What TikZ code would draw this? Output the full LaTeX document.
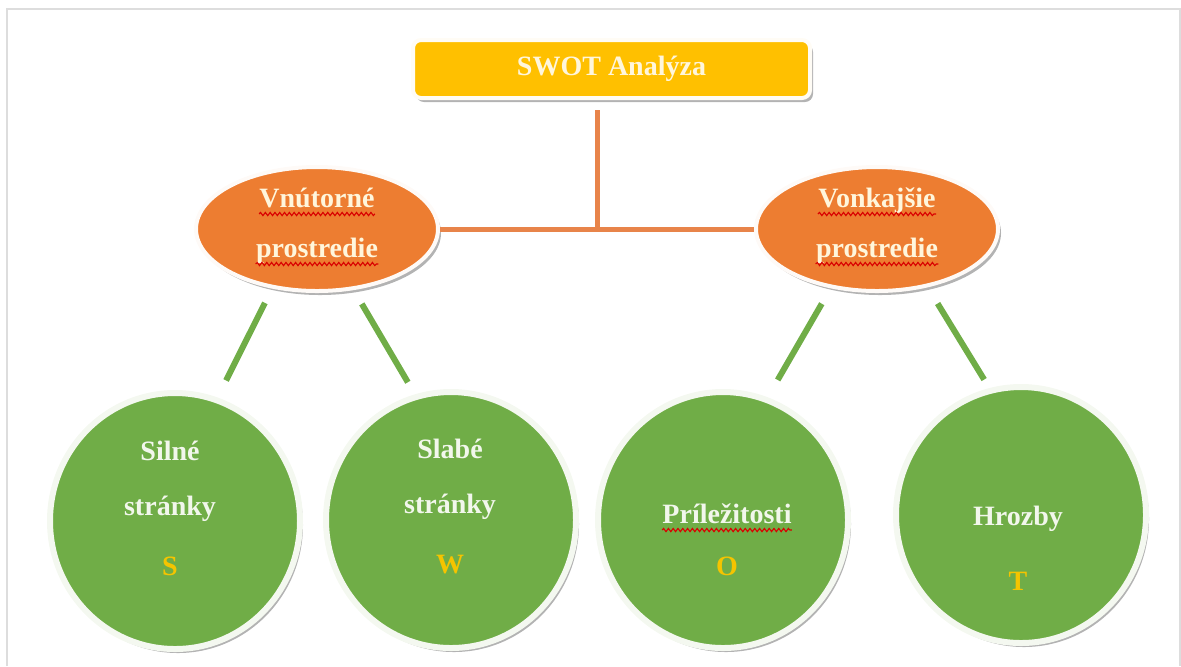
\documentclass[tikz,border=0pt]{standalone}
\usepackage{fontspec}
\setmainfont{Liberation Serif}
\usetikzlibrary{shapes.geometric,shadows,decorations.pathmorphing}
\definecolor{swotyellow}{HTML}{FFC000}
\definecolor{swotorange}{HTML}{ED7D31}
\definecolor{lineorange}{HTML}{E8844A}
\definecolor{swotgreen}{HTML}{70AD47}
\definecolor{cream}{HTML}{FFF6DC}
\definecolor{paleg}{HTML}{F2F7EC}
\definecolor{letterc}{HTML}{F5C400}
\definecolor{framec}{HTML}{DDDDDD}
\begin{document}
\begin{tikzpicture}[x=0.5pt,y=-0.5pt,
  shad/.style={drop shadow={shadow xshift=1.5pt,shadow yshift=-2pt,fill=black!50,opacity=0.6}},
  titlebox/.style={rectangle,rounded corners=4pt,fill=swotyellow,draw=white!96!swotyellow,line width=2pt,
    minimum width=198.5pt,minimum height=29pt,inner sep=0pt,shad,
    font=\bfseries\fontsize{14pt}{16pt}\selectfont,text=cream},
  oval/.style={ellipse,fill=swotorange,draw=white!96!swotorange,line width=2pt,inner sep=0pt,
    minimum width=121pt,minimum height=62pt,shad},
  disc/.style={ellipse,fill=swotgreen,draw=white!92!swotgreen,line width=3pt,inner sep=0pt,
    minimum width=125pt,minimum height=128pt,shad},
  lbl/.style={anchor=base,inner sep=0pt,font=\bfseries\fontsize{14pt}{16pt}\selectfont,text=paleg},
  olbl/.style={lbl,text=cream},
  letter/.style={lbl,text=letterc},
  orangeline/.style={draw=lineorange,line width=2.5pt},
  greenline/.style={draw=swotgreen,line width=3pt},
  squiggle/.style={draw=red!85!black,line width=0.55pt,decorate,
    decoration={snake,amplitude=0.8pt,segment length=2.4pt}}
]
\useasboundingbox (0,0) rectangle (1181,666);
\draw[framec,line width=1pt] (7,666) -- (7,9) -- (1180,9) -- (1180,666);

% nodes
\node[titlebox] (box) at (611.5,69) {SWOT Analýza};
\node[oval] (lell) at (317,229) {};
\node[oval] (rell) at (877,229) {};
\node[disc] (silne) at (175,521) {};
\node[disc] (slabe) at (451,520) {};
\node[disc] (prilez) at (723,520) {};
\node[disc] (hrozby) at (1021,515) {};

% orange connectors
\coordinate (j) at (597,229);
\draw[orangeline,shorten <=5pt] (box.south -| j) -- (j);
\draw[orangeline] (lell.east) -- (rell.west);

% green connectors
\draw[greenline,shorten <=8pt,shorten >=9.5pt] (lell.233) -- (silne.71);
\draw[greenline,shorten <=8pt,shorten >=7pt] (lell.301) -- (slabe.106);
\draw[greenline,shorten <=8.9pt,shorten >=10pt] (rell.232) -- (prilez.70);
\draw[greenline,shorten <=9.5pt,shorten >=5pt] (rell.311) -- (hrozby.104);

% ellipse texts
\node[olbl] (v1) at (317,207) {Vnútorné};
\node[olbl] (v2) at (317,257) {prostredie};
\node[olbl] (k1) at (877,207) {Vonkajšie};
\node[olbl] (k2) at (877,257) {prostredie};

% circle texts
\node[lbl] (s1) at (170,460) {Silné};
\node[lbl] (s2) at (170,515) {stránky};
\node[letter] (s3) at (170,575) {S};
\node[lbl] (w1) at (450,458) {Slabé};
\node[lbl] (w2) at (450,513) {stránky};
\node[letter] (w3) at (450,573) {W};
\node[lbl] (o1) at (727,523) {Príležitosti};
\node[letter] (o3) at (727,575) {O};
\node[lbl] (h1) at (1018,525) {Hrozby};
\node[letter] (h3) at (1018,590) {T};

% spell-check squiggles
\draw[squiggle] ([yshift=-3.5pt]v1.base west) -- ([yshift=-3.5pt]v1.base east);
\draw[squiggle] ([yshift=-3.5pt]v2.base west) -- ([yshift=-3.5pt]v2.base east);
\draw[squiggle] ([yshift=-3.5pt]k1.base west) -- ([yshift=-3.5pt]k1.base east);
\draw[squiggle] ([yshift=-3.5pt]k2.base west) -- ([yshift=-3.5pt]k2.base east);
\draw[squiggle] ([yshift=-3.5pt]o1.base west) -- ([yshift=-3.5pt]o1.base east);
\end{tikzpicture}
\end{document}
